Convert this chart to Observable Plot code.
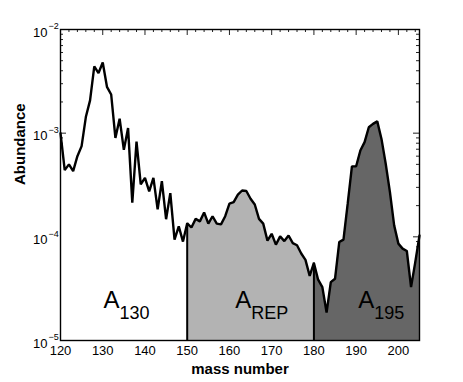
<!DOCTYPE html>
<html><head><meta charset="utf-8">
<script src="https://cdn.jsdelivr.net/npm/d3@7"></script>
<script src="https://cdn.jsdelivr.net/npm/@observablehq/plot@0.6"></script>
<style>body{margin:0;background:#fff}</style>
</head><body><div id="chart"></div>
<script>
const massNumbers = [120,121,122,123,124,125,126,127,128,129,130,131,132,133,134,135,136,137,138,139,
  140,141,142,143,144,145,146,147,148,149,150,151,152,153,154,155,156,157,158,159,
  160,161,162,163,164,165,166,167,168,169,170,171,172,173,174,175,176,177,178,179,
  180,181,182,183,184,185,186,187,188,189,190,191,192,193,194,195,196,197,198,199,
  200,201,202,203,204,205];
const abundance = [1.0e-3,4.4e-4,5.0e-4,4.3e-4,6.0e-4,7.5e-4,1.43e-3,2.07e-3,4.4e-3,3.8e-3,
  4.8e-3,2.8e-3,2.36e-3,9.0e-4,1.38e-3,6.9e-4,1.12e-3,2.13e-4,8.3e-4,3.2e-4,
  3.7e-4,2.75e-4,3.7e-4,1.84e-4,3.44e-4,1.48e-4,2.64e-4,9.4e-5,1.26e-4,9.0e-5,
  1.35e-4,1.23e-4,1.49e-4,1.41e-4,1.72e-4,1.34e-4,1.58e-4,1.34e-4,1.32e-4,1.58e-4,
  2.09e-4,2.16e-4,2.55e-4,2.80e-4,2.77e-4,2.33e-4,2.05e-4,1.49e-4,1.34e-4,9.2e-5,
  1.07e-4,8.4e-5,1.01e-4,9.1e-5,1.03e-4,8.7e-5,8.3e-5,6.9e-5,6.0e-5,4.2e-5,
  5.6e-5,3.86e-5,3.27e-5,1.86e-5,3.66e-5,3.94e-5,8.9e-5,9.4e-5,2.09e-4,4.78e-4,
  4.8e-4,6.8e-4,8.2e-4,1.14e-3,1.23e-3,1.30e-3,8.8e-4,5.07e-4,2.7e-4,1.29e-4,
  8.6e-5,7.7e-5,7.3e-5,3.27e-5,5.7e-5,1.03e-4];

const regionStart = [120, 150, 180];
const regionEnd = [150, 180, 205];
const regionFill = ["#ffffff", "#b3b3b3", "#666666"];
const regionLabel = ["A", "A", "A"];
const regionSub = ["130", "REP", "195"];
const regionLabelX = [130.2, 161.4, 190.5];
const regionLabelY = 2.08e-5;

const xDomain = [120, 205];
const yDomain = [1e-5, 1e-2];
const xTicks = [120, 130, 140, 150, 160, 170, 180, 190, 200];
const xMinorTicks = [122,124,126,128,132,134,136,138,142,144,146,148,152,154,156,158,162,164,166,168,172,174,176,178,182,184,186,188,192,194,196,198,202,204];
const yTicks = [1e-5, 1e-4, 1e-3, 1e-2];
const yTickBase = ["10", "10", "10", "10"];
const yTickExp = ["\u22125", "\u22124", "\u22123", "\u22122"];
const yMinorTicks = [];
for (const d of [1e-5, 1e-4, 1e-3]) for (let k = 2; k <= 9; k++) yMinorTicks.push(k * d);

const rows = massNumbers.map((m, i) => ({m, v: abundance[i]}));
const regions = regionStart.map((s, i) => ({s, e: regionEnd[i], fill: regionFill[i]}));
const boundaries = rows.filter(r => regionStart.slice(1).includes(r.m));
const yTickRows = yTicks.map((t, i) => ({t, base: yTickBase[i], exp: yTickExp[i]}));
const labelRows = regionLabelX.map((x, i) => ({x, a: regionLabel[i], sub: regionSub[i]}));

const W = 463, H = 382, mL = 60, mR = 44, mT = 29, mB = 42;
const plotW = W - mL - mR, plotH = H - mT - mB;
const font = "'Liberation Sans', Arial, Helvetica, sans-serif";
const tickStroke = {stroke: "#222", strokeWidth: 1};
const leftTicks = (data, len) => Plot.tickY(data, {y: d => d, insetRight: plotW - len, ...tickStroke});
const rightTicks = (data, len) => Plot.tickY(data, {y: d => d, insetLeft: plotW - len, ...tickStroke});
const topTicks = (data, len) => Plot.tickX(data, {x: d => d, insetBottom: plotH - len, ...tickStroke});

const chart = Plot.plot({
  width: W, height: H,
  marginLeft: mL, marginRight: mR, marginTop: mT, marginBottom: mB,
  style: {fontFamily: font, fontSize: "13px", color: "black", background: "white"},
  x: {domain: xDomain, label: null, axis: null},
  y: {type: "log", domain: yDomain, label: null, axis: null},
  marks: [
    leftTicks(yMinorTicks, 3), leftTicks(yTicks, 6),
    rightTicks(yMinorTicks, 3), rightTicks(yTicks, 6),
    topTicks(xMinorTicks, 3), topTicks(xTicks, 6),
    ...regions.map(r => Plot.areaY(rows.filter(d => d.m >= r.s && d.m <= r.e),
      {x: "m", y1: () => yDomain[0], y2: "v", fill: r.fill, curve: "linear"})),
    Plot.ruleX(boundaries, {x: "m", y1: () => yDomain[0], y2: "v", stroke: "black", strokeWidth: 2}),
    Plot.line(rows, {x: "m", y: "v", stroke: "black", strokeWidth: 2.4, strokeLinejoin: "miter"}),
    Plot.frame({stroke: "black", strokeWidth: 1.4}),
    Plot.text(xTicks, {x: d => d, frameAnchor: "bottom", lineAnchor: "top", dy: 5, text: d => String(d), fontSize: 13}),
    Plot.text(yTickRows, {y: "t", frameAnchor: "left", text: "base", textAnchor: "end", dx: -13, dy: 3, fontSize: 13}),
    Plot.text(yTickRows, {y: "t", frameAnchor: "left", text: "exp", textAnchor: "start", dx: -12, dy: -3, fontSize: 9}),
    Plot.text(labelRows, {x: "x", y: () => regionLabelY, text: "a", textAnchor: "start", lineAnchor: "bottom", fontSize: 24}),
    Plot.text(labelRows, {x: "x", y: () => regionLabelY, text: "sub", textAnchor: "start", lineAnchor: "bottom", dx: 16, dy: 11, fontSize: 18}),
    Plot.text(["mass number"], {frameAnchor: "bottom", lineAnchor: "middle", dy: 29, fontWeight: "bold", fontSize: 15}),
    Plot.text(["Abundance"], {frameAnchor: "left", rotate: -90, dx: -40, fontWeight: "bold", fontSize: 15})
  ]
});
document.getElementById("chart").appendChild(chart);
</script>
</body></html>
